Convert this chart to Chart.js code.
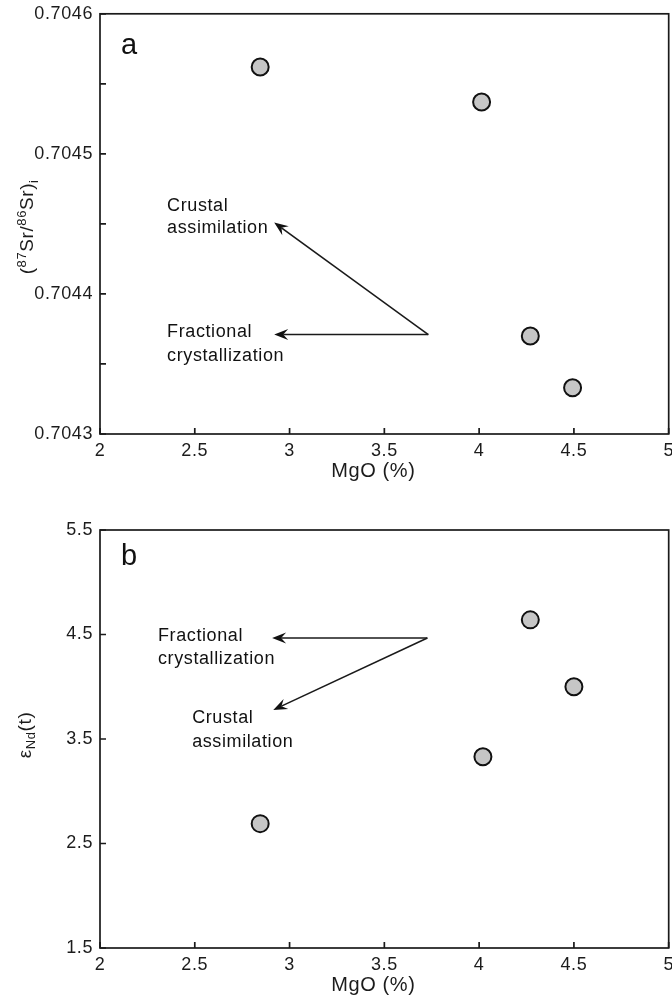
<!DOCTYPE html>
<html><head><meta charset="utf-8">
<script src="https://cdn.jsdelivr.net/npm/chart.js@4/dist/chart.umd.min.js"></script>
<style>
html,body{margin:0;background:#fff;overflow:hidden}
.w{position:absolute;left:0;width:672px;overflow:hidden}
canvas{display:block}
</style>
</head><body>
<div class="w" style="top:-4px;height:504px"><canvas id="ca" width="680" height="504"></canvas></div>
<div class="w" style="top:500px;height:500px"><canvas id="cb" width="680" height="500"></canvas></div>
<script>
// ---- data ----
const mgoA = [2.845, 4.013, 4.27, 4.493];
const srA  = [0.704562, 0.704537, 0.704370, 0.704333];
const mgoB = [4.27, 4.50, 4.02, 2.845];
const endB = [4.64, 4.00, 3.33, 2.69];

const xTicks = [2, 2.5, 3, 3.5, 4, 4.5, 5];
const xTickLabels = ['2', '2.5', '3', '3.5', '4', '4.5', '5'];
const yTicksA = [0.7043, 0.70435, 0.7044, 0.70445, 0.7045, 0.70455, 0.7046];
const yTickLabelsA = ['0.7043', '', '0.7044', '', '0.7045', '', '0.7046'];
const yTicksB = [1.5, 2.5, 3.5, 4.5, 5.5];
const yTickLabelsB = ['1.5', '2.5', '3.5', '4.5', '5.5'];
const xTitle = 'MgO (%)';

// arrows [fromX, fromY, toX, toY] in data units
const arrowsA = [[3.732, 0.704371, 2.919, 0.704451], [3.732, 0.704371, 2.919, 0.704371]];
const arrowsB = [[3.727, 4.467, 2.908, 4.467], [3.727, 4.467, 2.914, 3.778]];
// annotation texts [text, x, y] in data units (left / middle anchor)
const notesA = [['Crustal', 2.354, 0.704463], ['assimilation', 2.354, 0.704447],
                ['Fractional', 2.354, 0.704373], ['crystallization', 2.354, 0.704356]];
const notesB = [['Fractional', 2.306, 4.486], ['crystallization', 2.306, 4.266],
                ['Crustal', 2.486, 3.701], ['assimilation', 2.486, 3.471]];

const FONT = '"Liberation Sans", Arial, Helvetica, sans-serif';
Chart.defaults.font.family = FONT;
Chart.defaults.font.size = 18;
Chart.defaults.color = '#1c1c1c';

function drawArrow(ctx, x1, y1, x2, y2) {
  const a = Math.atan2(y2 - y1, x2 - x1);
  const dx = Math.cos(a), dy = Math.sin(a);
  const px = -dy, py = dx;
  const L = 14, W = 5.5, N = 9;
  ctx.beginPath();
  ctx.moveTo(x1, y1);
  ctx.lineTo(x2 - dx * N, y2 - dy * N);
  ctx.stroke();
  ctx.beginPath();
  ctx.moveTo(x2, y2);
  ctx.lineTo(x2 - dx * L + px * W, y2 - dy * L + py * W);
  ctx.lineTo(x2 - dx * N, y2 - dy * N);
  ctx.lineTo(x2 - dx * L - px * W, y2 - dy * L - py * W);
  ctx.closePath();
  ctx.fill();
}

function drawParts(ctx, parts) {
  let w = 0;
  for (const p of parts) { ctx.font = p[1] + 'px ' + FONT; w += ctx.measureText(p[0]).width; }
  let x = -w / 2;
  for (const p of parts) {
    ctx.font = p[1] + 'px ' + FONT;
    ctx.fillText(p[0], x, p[2]);
    x += ctx.measureText(p[0]).width;
  }
}

const SPACING = '0.6px';
const decor = {
  id: 'decor',
  beforeLayout(chart) { chart.ctx.letterSpacing = SPACING; },
  beforeDraw(chart) { chart.ctx.letterSpacing = SPACING; },
  afterDraw(chart, args, o) {
    const ctx = chart.ctx, ca = chart.chartArea;
    const xs = chart.scales.x, ys = chart.scales.y;
    ctx.save();
    ctx.letterSpacing = SPACING;
    ctx.strokeStyle = '#1a1a1a'; ctx.fillStyle = '#111'; ctx.lineWidth = 1.7;
    ctx.strokeRect(ca.left, ca.top, ca.right - ca.left, ca.bottom - ca.top);
    // inward ticks
    ctx.beginPath();
    xs.ticks.forEach(t => {
      const x = xs.getPixelForValue(t.value);
      ctx.moveTo(x, ca.bottom); ctx.lineTo(x, ca.bottom - 6);
    });
    ys.ticks.forEach(t => {
      const y = ys.getPixelForValue(t.value);
      ctx.moveTo(ca.left, y); ctx.lineTo(ca.left + 6, y);
    });
    ctx.stroke();
    // arrows
    ctx.lineWidth = 1.6;
    o.arrows.forEach(a => drawArrow(ctx, xs.getPixelForValue(a[0]), ys.getPixelForValue(a[1]),
                                       xs.getPixelForValue(a[2]), ys.getPixelForValue(a[3])));
    // notes
    ctx.fillStyle = '#111';
    ctx.font = '18px ' + FONT;
    ctx.textAlign = 'left'; ctx.textBaseline = 'middle';
    o.notes.forEach(n => ctx.fillText(n[0], xs.getPixelForValue(n[1]), ys.getPixelForValue(n[2])));
    // x title
    ctx.fillStyle = '#1c1c1c';
    ctx.font = '20px ' + FONT;
    ctx.textAlign = 'center';
    ctx.fillText(xTitle, (ca.left + ca.right) / 2 - 11, ca.bottom + o.xTitleDy);
    // panel letter
    ctx.letterSpacing = '0px';
    ctx.fillStyle = '#111';
    ctx.font = '29px ' + FONT;
    ctx.textAlign = 'left';
    ctx.textBaseline = 'alphabetic';
    ctx.fillText(o.letter, ca.left + 21, ca.top + o.letterDy);
    // y title
    ctx.letterSpacing = SPACING;
    ctx.translate(o.titleX, (ca.top + ca.bottom) / 2 + o.titleDy);
    ctx.rotate(-Math.PI / 2);
    ctx.textAlign = 'left'; ctx.textBaseline = 'middle';
    ctx.fillStyle = '#1c1c1c';
    drawParts(ctx, o.titleParts);
    ctx.restore();
  }
};

function makeChart(id, xs, ys, yMin, yMax, yTicks, yLabels, padTop, xHeight, decorOpts) {
  return new Chart(document.getElementById(id), {
    type: 'scatter',
    data: { datasets: [{
      data: xs.map((v, i) => ({ x: v, y: ys[i] })),
      pointRadius: 8.5, pointHoverRadius: 8.5,
      backgroundColor: '#c6c6c6', borderColor: '#111', borderWidth: 2
    }]},
    options: {
      responsive: false, animation: false,
      layout: { padding: { top: padTop, right: 4, left: 0, bottom: 0 } },
      plugins: { legend: { display: false }, tooltip: { enabled: false }, decor: decorOpts },
      scales: {
        x: {
          type: 'linear', min: 2, max: 5,
          afterBuildTicks: s => { s.ticks = xTicks.map(v => ({ value: v })); },
          afterFit: s => { s.height = xHeight; },
          ticks: { autoSkip: false, maxRotation: 0, padding: 6,
                   callback: (v, i) => xTickLabels[i] },
          grid: { display: false, drawTicks: false },
          border: { display: false }
        },
        y: {
          type: 'linear', min: yMin, max: yMax,
          afterBuildTicks: s => { s.ticks = yTicks.map(v => ({ value: v })); },
          afterFit: s => { s.width = 100; },
          ticks: { autoSkip: false, padding: 7,
                   callback: (v, i) => yLabels[i] },
          grid: { display: false, drawTicks: false },
          border: { display: false }
        }
      }
    },
    plugins: [decor]
  });
}

makeChart('ca', mgoA, srA, 0.7043, 0.7046, yTicksA, yTickLabelsA, 13, 66, {
  arrows: arrowsA, notes: notesA, letter: 'a', letterDy: 40, titleX: 28, titleDy: 3, xTitleDy: 37,
  titleParts: [['(', 19, 0], ['87', 13, -6], ['Sr/', 19, 0], ['86', 13, -6], ['Sr)', 19, 0], ['i', 13, 6]]
});
makeChart('cb', mgoB, endB, 1.5, 5.5, yTicksB, yTickLabelsB, 30, 52, {
  arrows: arrowsB, notes: notesB, letter: 'b', letterDy: 35, titleX: 26, titleDy: -4, xTitleDy: 37,
  titleParts: [['ε', 19, 0], ['Nd', 13, 5], ['(t)', 19, 0]]
});
</script>
</body></html>
